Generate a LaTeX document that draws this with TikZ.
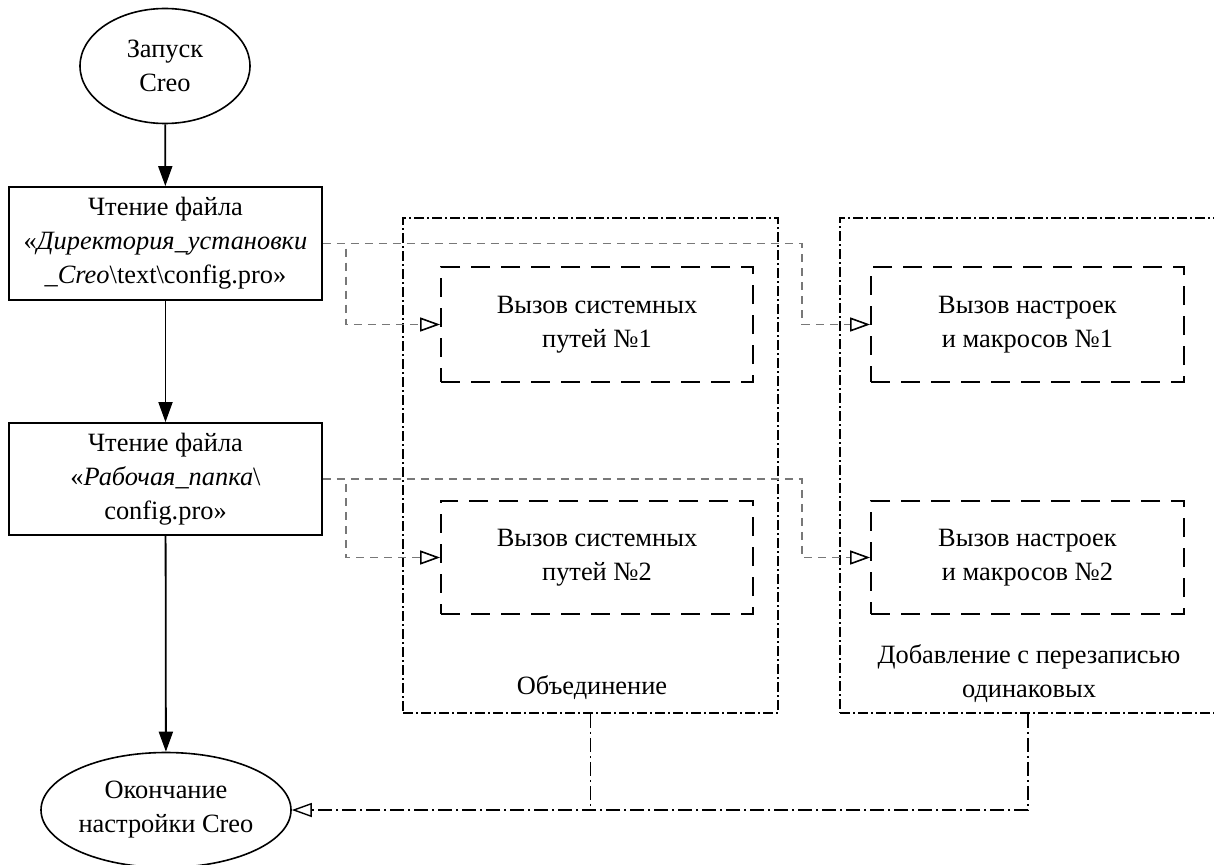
\documentclass[tikz,border=0pt]{standalone}
\usepackage{fontspec}
\setmainfont{Liberation Serif}
\usetikzlibrary{arrows.meta,shapes.geometric,calc}
\definecolor{connc}{RGB}{120,120,120}
\tikzset{
  txt/.style={align=center,font=\fontsize{26.4}{34}\selectfont,inner sep=0pt},
  oval/.style={txt,draw,ellipse,line width=1.6pt},
  procbox/.style={txt,draw,rectangle,line width=1.8pt},
  subbox/.style={txt,draw,rectangle,line width=1.8pt,dash pattern=on 19pt off 11pt},
  grpbox/.style={draw,rectangle,line width=1.6pt,inner sep=0pt,dash pattern=on 10pt off 3pt on 2pt off 3pt},
  flow/.style={line width=1.8pt,-{Triangle[length=20pt,width=14pt]}},
  conn/.style={draw=connc,line width=1.6pt,dash pattern=on 8pt off 6pt,-{Triangle[open,length=20pt,width=14pt,color=black,fill=white,line width=1.6pt]}},
  grpline/.style={line width=1.4pt,dash pattern=on 14pt off 4pt on 2pt off 4pt},
}
\begin{document}
\begin{tikzpicture}[x=1pt,y=-1pt]
\useasboundingbox (0,0) rectangle (1214,864);
% groups
\node[grpbox,minimum width=375pt,minimum height=495pt] (g1) at (590.5,465.5) {};
\node[grpbox,minimum width=376pt,minimum height=495pt] (g2) at (1028,465.5) {};
\node[txt] (l1) at (592,688) {Объединение};
\node[txt] (l2) at (1029,674) {Добавление с перезаписью\\одинаковых};
% main flow
\node[oval,minimum width=170pt,minimum height=115pt] (st) at (165,66) {Запуск\\Creo};
\node[procbox,minimum width=313pt,minimum height=113pt] (b1) at (165.5,243.5) {Чтение файла\\«\textit{Директория\_установки}\\\textit{\_Creo}\textbackslash text\textbackslash config.pro»};
\node[procbox,minimum width=313pt,minimum height=112pt] (b2) at (165.5,479) {Чтение файла\\«\textit{Рабочая\_папка}\textbackslash\\config.pro»};
\node[oval,minimum width=250pt,minimum height=115pt] (en) at (166,810) {Окончание\\настройки Creo};
% sub boxes
\node[subbox,minimum width=312pt,minimum height=115pt] (s1) at (597,324.5) {Вызов системных\\путей №1};
\node[subbox,minimum width=312pt,minimum height=113pt] (s2) at (597,557.5) {Вызов системных\\путей №2};
\node[subbox,minimum width=313pt,minimum height=115pt] (m1) at (1027.5,324.5) {Вызов настроек\\и макросов №1};
\node[subbox,minimum width=313pt,minimum height=113pt] (m2) at (1027.5,557.5) {Вызов настроек\\и макросов №2};
% flow arrows
\draw[flow] (st) -- (b1);
\draw[flow] (b1) -- (b2);
\draw[flow] (b2) -- (en);
% dashed connectors
\draw[conn] (b1.east) -- ++(23,0) |- (s1.west);
\draw[conn] (b1.east) -| ([xshift=-68pt]m1.west) -- (m1.west);
\draw[conn] (b2.east) -- ++(23,0) |- (s2.west);
\draw[conn] (b2.east) -| ([xshift=-68pt]m2.west) -- (m2.west);
% group outputs
\draw[grpline,-{Triangle[open,length=20pt,width=14pt,fill=white,line width=1.4pt]}] (g2.south) |- (en.east);
\draw[grpline] (g1.south) -- (g1.south |- en.east);
\end{tikzpicture}
\end{document}
